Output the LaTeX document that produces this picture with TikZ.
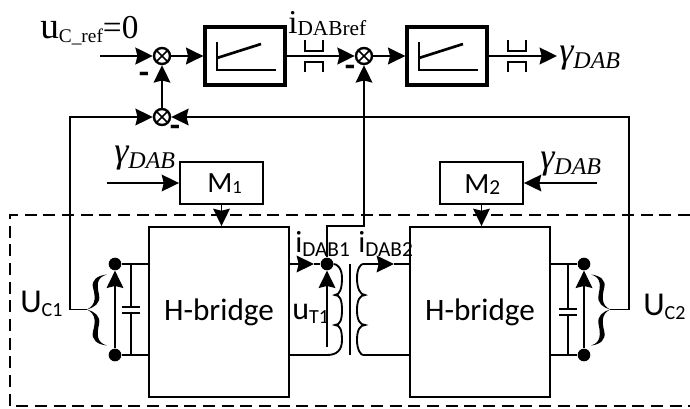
\documentclass[tikz,border=0pt]{standalone}
\usepackage{fontspec}
\setmainfont{Liberation Serif}
\setsansfont{Carlito}
\usepackage{tikz}
\usetikzlibrary{positioning, arrows.meta}
% big letter with lowered small index: size, letter, size, index, drop
\newcommand{\sublabel}[5]{{\fontsize{#1}{#1}\selectfont #2}\raisebox{-#5}{\fontsize{#3}{#3}\selectfont #4}}
\newcommand{\gainsymbol}[1]{
    \draw[signal] ([shift={(-28,-14)}]#1.center) -- ([shift={(-28,14)}]#1.center) -- ([shift={(31,14)}]#1.center);
    \draw[signal] ([shift={(-28,2)}]#1.center) -- ([shift={(16,-12)}]#1.center);
}
\newcommand{\limitsymbol}[1]{
    \draw[signal] ([shift={(-9,-16)}]#1) -- ([shift={(-9,-5)}]#1) -- ([shift={(9,-5)}]#1) -- ([shift={(9,-16)}]#1);
    \draw[signal] ([shift={(-9,16)}]#1) -- ([shift={(-9,6)}]#1) -- ([shift={(9,6)}]#1) -- ([shift={(9,16)}]#1);
}
% brace tip at #1, ends towards the side given by the sign of #2
\newcommand{\curlybrace}[2]{
    \begin{scope}[shift={(#1)}, xscale=#2]
    \fill (20,-35) .. controls (10,-34) and (4,-29) .. (6,-22) .. controls (8,-14) and (10,-5) .. (0,0)
        .. controls (7,-2) and (14,-6) .. (12,-15) .. controls (10,-24) and (9,-32) .. (20,-35) -- cycle;
    \fill (20,36) .. controls (10,35) and (4,30) .. (6,22) .. controls (8,14) and (10,5) .. (0,0)
        .. controls (7,2) and (14,6) .. (12,15) .. controls (10,24) and (9,33) .. (20,36) -- cycle;
    \end{scope}
}

\begin{document}
\begin{tikzpicture}[
    x=0.75pt, y=-0.75pt,
    >={Stealth[length=13pt,width=12.5pt,inset=1.5pt]},
    wire/.style={line width=1.4pt},
    signal/.style={line width=2pt},
    gainbox/.style={rectangle, draw=black, line width=2.4pt, minimum width=60pt, minimum height=43.5pt},
    modbox/.style={rectangle, draw=black, line width=1.4pt, minimum width=62.25pt, minimum height=31.5pt},
    bridgebox/.style={rectangle, draw=black, line width=1.4pt, minimum width=105pt, minimum height=127.5pt, font=\sffamily\fontsize{23.4}{24}\selectfont},
    sumnode/.style={circle, draw=black, line width=1.8pt, minimum size=12pt, inner sep=0pt,
        path picture={\draw[line width=1.2pt] (path picture bounding box.north west) -- (path picture bounding box.south east)
            (path picture bounding box.north east) -- (path picture bounding box.south west);}},
    dotnode/.style={circle, fill=black, minimum size=9.5pt, inner sep=0pt},
    tag/.style={anchor=base west, inner sep=0pt},
    minus/.style={inner sep=0pt, font=\sffamily\bfseries\fontsize{25}{25}\selectfont},
]
\useasboundingbox (0,0) rectangle (690,408);

% Control loop
\coordinate (inA) at (100,56);
\node[sumnode] (sumA) at (162,56) {};
\node[gainbox] (gainA) at (245,56) {};
\node[sumnode] (sumB) at (364,56) {};
\node[gainbox] (gainB) at (447,56) {};
\coordinate (outB) at (557,56);
\node[sumnode] (sumC) at (162,117) {};
\coordinate (limitA) at (314,56);
\coordinate (limitB) at (517,56);

\gainsymbol{gainA}
\gainsymbol{gainB}
\limitsymbol{limitA}
\limitsymbol{limitB}

% Power stage
\node[bridgebox] (bridgeA) at (219,312) {H-bridge};
\node[bridgebox] (bridgeB) at (480,312) {H-bridge};
\node[modbox] (modA) at (221.5,183) {};
\node[modbox] (modB) at (481.5,183) {};
\coordinate (gamA) at (107,183);
\coordinate (gamB) at (597,183);

\node[dotnode] (dotA) at (115,264) {};
\node[dotnode] (dotC) at (115,355) {};
\node[dotnode] (dotB) at (327,264) {};
\node[dotnode] (dotD) at (584,264) {};
\node[dotnode] (dotE) at (584,355) {};
\coordinate (footB) at (327,347);
\coordinate (coilA) at (327,355);
\coordinate (coilB) at (363,264);
\coordinate (coilC) at (363,355);
\coordinate (bendB) at (364,226);
\coordinate (tipA) at (87,309.5);
\coordinate (tipB) at (610,309.5);
\coordinate (cornerA) at (70,117);
\coordinate (cornerB) at (629,117);
\coordinate (midA) at (314,264);
\coordinate (midB) at (394,264);

% Signal paths
\draw[signal,->] (inA) -- (sumA);
\draw[signal,->] (sumA) -- (gainA);
\draw[signal,->] (gainA) -- (sumB);
\draw[signal,->] (sumB) -- (gainB);
\draw[signal,->] (gainB) -- (outB);
\draw[wire,->] (sumC) -- (sumA);
\draw[wire,->] (tipA) -| (cornerA) -- (sumC);
\draw[wire,->] (tipB) -| (cornerB) -- (sumC);
\draw[wire,->] (dotB) |- (bendB) -- (sumB);
\draw[wire,->] (gamA) -- (modA);
\draw[wire,->] (gamB) -- (modB);
\draw[wire,->] (modA) -- (modA |- bridgeA.north);
\draw[wire,->] (modB) -- (modB |- bridgeB.north);

% DC links
\draw[wire] (dotA) -- (dotA -| bridgeA.west);
\draw[wire] (dotC) -- (dotC -| bridgeA.west);
\draw[wire] (dotD) -- (dotD -| bridgeB.east);
\draw[wire] (dotE) -- (dotE -| bridgeB.east);
\draw[wire,->] (dotC) -- (dotA);
\draw[wire,->] (dotE) -- (dotD);
\draw[wire] (131,264) -- (131,307) (122,307) -- (140,307) (122,313) -- (140,313) (131,313) -- (131,355);
\draw[wire] (568,264) -- (568,309) (559,309) -- (577,309) (559,315) -- (577,315) (568,315) -- (568,355);
\curlybrace{tipA}{1}
\curlybrace{tipB}{-0.95}

% Transformer
\draw[wire,->] (dotB -| bridgeA.east) -- (midA);
\draw[wire] (midA) -- (dotB);
\draw[wire,->] (coilB) -- (midB);
\draw[wire] (midB) -- (midB -| bridgeB.west);
\draw[wire] (coilA -| bridgeA.east) -- (coilA);
\draw[wire] (coilC -| bridgeB.west) -- (coilC);
\draw[wire,->] (footB) -- (dotB);
\draw[wire] (dotB) .. controls (337,264) and (342,268) .. (342,278) .. controls (342,288) and (340,295) .. (335,295)
    .. controls (340,295) and (342,300) .. (342,310) .. controls (342,320) and (340,325) .. (335,325)
    .. controls (340,325) and (342,330) .. (342,340) .. controls (342,350) and (337,355) .. (coilA);
\draw[wire] (coilB) .. controls (361,264) and (357,268) .. (357,278) .. controls (357,288) and (360,295) .. (365,295)
    .. controls (360,295) and (357,300) .. (357,310) .. controls (357,320) and (360,325) .. (365,325)
    .. controls (360,325) and (357,330) .. (357,340) .. controls (357,350) and (361,355) .. (coilC);
\draw[wire] (350,264) -- (350,355);

\draw[wire, dash pattern=on 9pt off 5pt] (690,215) -- (10,215) -- (10,406) -- (690,406);

% Labels
\node[tag] (labUref) at (40,38) {\sublabel{28pt}{u}{14.5pt}{C\_ref}{3.5pt}\fontsize{25pt}{25pt}\selectfont =0};
\node[tag] (labIref) at (288,33) {\sublabel{25pt}{i}{16pt}{DABref}{1.5pt}};
\node[tag] (labGam) at (559,62) {\itshape\sublabel{27pt}{γ}{18pt}{DAB}{4.5pt}};
\node[tag] (labGamA) at (114,162) {\itshape\sublabel{27pt}{γ}{18pt}{DAB}{4.5pt}};
\node[tag] (labGamB) at (540,168) {\itshape\sublabel{27pt}{γ}{18pt}{DAB}{4.5pt}};
\node[tag, font=\sffamily] (labMA) at (207,192) {\sublabel{22pt}{M}{14pt}{1}{1pt}};
\node[tag, font=\sffamily] (labMB) at (464,193) {\sublabel{22pt}{M}{16pt}{2}{1pt}};
\node[tag, font=\sffamily] (labUA) at (20,312) {\sublabel{25pt}{U}{15pt}{C1}{3pt}};
\node[tag, font=\sffamily] (labUB) at (643,315) {\sublabel{25pt}{U}{15pt}{C2}{3pt}};
\node[tag, font=\sffamily] (labIA) at (295,252) {\sublabel{23pt}{i}{16pt}{DAB1}{3pt}};
\node[tag, font=\sffamily] (labIB) at (358,252) {\sublabel{23pt}{i}{16pt}{DAB2}{3pt}};
\node[tag, font=\sffamily] (labUT) at (292,319) {\sublabel{24pt}{u}{15pt}{T1}{3pt}};
\node[minus] (minA) at (144,78) {-};
\node[minus] (minC) at (175,131) {-};
\node[minus] (minB) at (350,71) {-};

\end{tikzpicture}
\end{document}
